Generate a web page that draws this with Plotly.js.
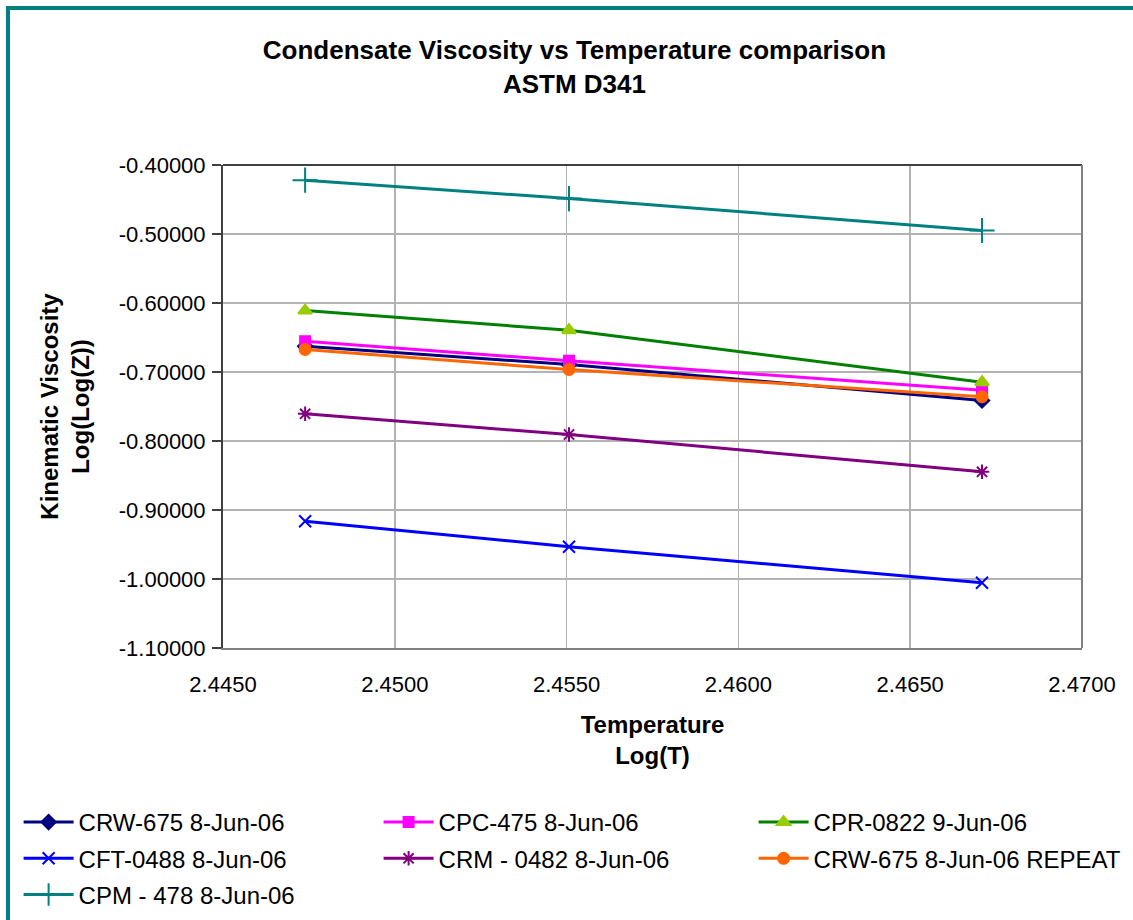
<!DOCTYPE html>
<html>
<head>
<meta charset="utf-8">
<script src="https://cdn.plot.ly/plotly-3.0.1.min.js"></script>
<style>
  html, body { margin: 0; padding: 0; background: #ffffff; overflow: hidden; }
  #chart { width: 1133px; height: 920px; }
  #frame { position: absolute; left: 6px; top: 6px; width: 3000px; height: 3000px;
           border-left: 4px solid #008080; border-top: 4px solid #008080; pointer-events: none; }
</style>
</head>
<body>
<div id="chart"></div>
<div id="frame"></div>
<script>
// Log(T) temperatures (x)
const logT = [2.44739, 2.45507, 2.46709];

// Series names
const seriesNames = [
  "CRW-675 8-Jun-06",
  "CPC-475 8-Jun-06",
  "CPR-0822 9-Jun-06",
  "CFT-0488 8-Jun-06",
  "CRM - 0482 8-Jun-06",
  "CRW-675 8-Jun-06 REPEAT",
  "CPM - 478 8-Jun-06"
];

// Log(Log(Z)) values per series
const crw675       = [-0.6626, -0.6891, -0.7413];
const cpc475       = [-0.6554, -0.6838, -0.7264];
const cpr0822      = [-0.6109, -0.6394, -0.7148];
const cft0488      = [-0.9162, -0.9533, -1.0055];
const crm0482      = [-0.7606, -0.7906, -0.8446];
const crw675repeat = [-0.6674, -0.6964, -0.7359];
const cpm478       = [-0.4220, -0.4486, -0.4949];

// Tick labels
const xTickVals = [2.445, 2.450, 2.455, 2.460, 2.465, 2.470];
const xTickText = ["2.4450", "2.4500", "2.4550", "2.4600", "2.4650", "2.4700"];
const yTickVals = [-0.4, -0.5, -0.6, -0.7, -0.8, -0.9, -1.0, -1.1];
const yTickText = ["-0.40000", "-0.50000", "-0.60000", "-0.70000", "-0.80000", "-0.90000", "-1.00000", "-1.10000"];

const seriesValues = [crw675, cpc475, cpr0822, cft0488, crm0482, crw675repeat, cpm478];
// legend column for each series (reference legend has 3 columns)
const legendColumn = ["legend", "legend2", "legend3", "legend", "legend2", "legend3", "legend"];

const styles = [
  {line: "#000080", marker: "#000080", symbol: "diamond", size: 11},
  {line: "#FF00FF", marker: "#FF00FF", symbol: "square", size: 10},
  {line: "#008000", marker: "#99CC00", symbol: "triangle-up", size: 12},
  {line: "#0000FF", marker: "#0000FF", symbol: "x-thin", size: 12},
  {line: "#800080", marker: "#800080", symbol: "asterisk", size: 12},
  {line: "#FF6600", marker: "#FF6600", symbol: "circle", size: 11},
  {line: "#008080", marker: "#008080", symbol: "cross-thin", size: 18}
];

const FONT = "Liberation Sans, Arial, sans-serif";
const MARGIN_L = 223, MARGIN_R = 51, PLOT_W = 1133 - 223 - 51;

const traces = seriesValues.map((vals, i) => ({
  type: "scatter",
  mode: "lines+markers",
  name: seriesNames[i],
  legend: legendColumn[i],
  legendgroup: "g" + i,
  x: logT,
  y: vals,
  line: {color: styles[i].line, width: 3},
  marker: {symbol: styles[i].symbol, size: styles[i].size, color: styles[i].marker,
           line: {color: styles[i].marker, width: 2}}
}));

function legendAt(xpx) {
  return {
    orientation: "v",
    xref: "paper", yref: "container",
    x: (xpx - MARGIN_L) / PLOT_W, y: 1 - 800 / 920,
    xanchor: "left", yanchor: "top",
    font: {family: FONT, size: 24, color: "#000000"},
    itemwidth: 50,
    tracegroupgap: 2,
    traceorder: "grouped",
    bgcolor: "rgba(0,0,0,0)"
  };
}

const layout = {
  width: 1133,
  height: 920,
  paper_bgcolor: "#ffffff",
  plot_bgcolor: "#ffffff",
  margin: {l: MARGIN_L, r: MARGIN_R, t: 165, b: 272, pad: 0},
  font: {family: FONT, size: 22, color: "#000000"},
  title: {
    text: "<b>Condensate Viscosity vs Temperature comparison</b><br><b>ASTM D341</b>",
    font: {family: FONT, size: 26, color: "#000000"},
    x: 0.507, xref: "container", xanchor: "center",
    y: 1 - 59 / 920, yref: "container", yanchor: "middle"
  },
  xaxis: {
    range: [2.445, 2.470],
    tickvals: xTickVals,
    ticktext: xTickText,
    showgrid: true,
    gridcolor: "#B3B3B3",
    gridwidth: 1.5,
    showline: true,
    linecolor: "#808080",
    linewidth: 2,
    ticks: "",
    zeroline: false,
    ticklabelstandoff: 16,
    tickfont: {family: FONT, size: 22, color: "#000000"},
    title: {
      text: "<b>Temperature</b><br><b>Log(T)</b>",
      font: {family: FONT, size: 24, color: "#000000"},
      standoff: 20
    }
  },
  yaxis: {
    range: [-1.1, -0.4],
    tickvals: yTickVals,
    ticktext: yTickText,
    showgrid: true,
    gridcolor: "#B3B3B3",
    gridwidth: 1.5,
    showline: true,
    linecolor: "#404040",
    linewidth: 2,
    ticks: "outside",
    ticklen: 9,
    tickcolor: "#404040",
    tickwidth: 1.5,
    zeroline: false,
    ticklabelstandoff: 2,
    tickfont: {family: FONT, size: 22, color: "#000000"},
    title: {
      text: "<b>Kinematic Viscosity</b><br><b>Log(Log(Z))</b>",
      font: {family: FONT, size: 24, color: "#000000"},
      standoff: 22
    }
  },
  shapes: [
    {type: "line", xref: "paper", yref: "paper", x0: 0, x1: 1, y0: 1, y1: 1,
     line: {color: "#404040", width: 2}},
    {type: "line", xref: "paper", yref: "paper", x0: 1, x1: 1, y0: 0, y1: 1,
     line: {color: "#808080", width: 2}}
  ],
  showlegend: true,
  legend: legendAt(18.6),
  legend2: legendAt(378.6),
  legend3: legendAt(753.6)
};

Plotly.newPlot("chart", traces, layout, {displayModeBar: false, staticPlot: true});
</script>
</body>
</html>
